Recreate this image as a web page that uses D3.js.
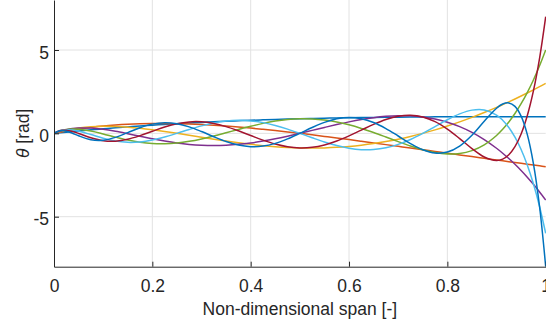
<!DOCTYPE html>
<html>
<head>
<meta charset="utf-8">
<script src="https://cdn.jsdelivr.net/npm/d3@7"></script>
<style>
  html, body { margin: 0; padding: 0; background: #ffffff; }
  svg { display: block; }
  text { font-family: "Liberation Sans", Arial, Helvetica, sans-serif; fill: #262626; }
</style>
</head>
<body>
<svg id="chart" width="546" height="323"></svg>
<script>
// Non-dimensional span positions
const span = [0, 0.0125, 0.025, 0.0375, 0.05, 0.075, 0.1, 0.125, 0.15, 0.175, 0.2, 0.225, 0.25, 0.275, 0.3, 0.325, 0.35, 0.375, 0.4, 0.425, 0.45, 0.475, 0.5, 0.525, 0.55, 0.575, 0.6, 0.625, 0.65, 0.675, 0.7, 0.725, 0.75, 0.775, 0.8, 0.825, 0.85, 0.875, 0.9, 0.9125, 0.925, 0.9375, 0.95, 0.9625, 0.975, 0.9875, 1];

// theta [rad] for each curve
const mode1 = [0, 0.037, 0.073, 0.108, 0.143, 0.209, 0.271, 0.330, 0.386, 0.439, 0.488, 0.535, 0.578, 0.619, 0.657, 0.693, 0.725, 0.756, 0.784, 0.810, 0.834, 0.855, 0.875, 0.893, 0.909, 0.923, 0.936, 0.947, 0.957, 0.966, 0.973, 0.979, 0.984, 0.989, 0.992, 0.995, 0.997, 0.998, 0.999, 0.999, 1.0, 1.0, 1.0, 1.0, 1.0, 1.0, 1.0];
const mode2 = [0, 0.072, 0.139, 0.200, 0.257, 0.354, 0.434, 0.495, 0.540, 0.570, 0.586, 0.588, 0.578, 0.557, 0.526, 0.485, 0.435, 0.378, 0.314, 0.243, 0.167, 0.086, 0, -0.089, -0.182, -0.277, -0.374, -0.474, -0.574, -0.676, -0.778, -0.881, -0.984, -1.087, -1.190, -1.293, -1.395, -1.497, -1.598, -1.649, -1.699, -1.75, -1.8, -1.85, -1.9, -1.95, -2];
const mode3 = [0, 0.104, 0.191, 0.262, 0.319, 0.394, 0.423, 0.413, 0.370, 0.303, 0.215, 0.112, 0, -0.118, -0.237, -0.353, -0.464, -0.567, -0.659, -0.737, -0.800, -0.847, -0.875, -0.884, -0.873, -0.840, -0.786, -0.710, -0.613, -0.493, -0.350, -0.186, 0, 0.208, 0.436, 0.686, 0.957, 1.248, 1.558, 1.721, 1.889, 2.062, 2.24, 2.423, 2.61, 2.803, 3];
const mode4 = [0, 0.130, 0.224, 0.285, 0.318, 0.315, 0.243, 0.124, -0.022, -0.177, -0.328, -0.464, -0.578, -0.663, -0.715, -0.732, -0.714, -0.661, -0.577, -0.464, -0.327, -0.170, 0, 0.178, 0.356, 0.529, 0.689, 0.829, 0.942, 1.021, 1.059, 1.049, 0.984, 0.859, 0.667, 0.401, 0.056, -0.374, -0.895, -1.191, -1.512, -1.859, -2.232, -2.632, -3.059, -3.515, -4];
const mode5 = [0, 0.150, 0.234, 0.265, 0.253, 0.142, -0.034, -0.227, -0.401, -0.532, -0.608, -0.623, -0.578, -0.479, -0.335, -0.159, 0.036, 0.236, 0.428, 0.598, 0.735, 0.830, 0.875, 0.866, 0.801, 0.681, 0.511, 0.296, 0.047, -0.222, -0.497, -0.758, -0.984, -1.153, -1.236, -1.207, -1.035, -0.686, -0.126, 0.244, 0.682, 1.191, 1.778, 2.446, 3.202, 4.052, 5];
const mode6 = [0, 0.162, 0.221, 0.205, 0.138, -0.074, -0.298, -0.464, -0.539, -0.515, -0.402, -0.221, 0, 0.232, 0.447, 0.621, 0.735, 0.780, 0.748, 0.643, 0.474, 0.253, 0, -0.264, -0.517, -0.733, -0.893, -0.977, -0.970, -0.865, -0.661, -0.367, 0, 0.409, 0.817, 1.169, 1.393, 1.404, 1.097, 0.788, 0.353, -0.226, -0.968, -1.894, -3.025, -4.386, -6];
const mode7 = [0, 0.167, 0.186, 0.114, -0.005, -0.267, -0.442, -0.469, -0.354, -0.138, 0.126, 0.380, 0.578, 0.688, 0.693, 0.594, 0.405, 0.154, -0.128, -0.405, -0.640, -0.804, -0.875, -0.840, -0.698, -0.461, -0.153, 0.192, 0.535, 0.828, 1.026, 1.088, 0.984, 0.703, 0.256, -0.312, -0.915, -1.419, -1.629, -1.545, -1.282, -0.797, -0.036, 1.057, 2.545, 4.501, 7];
const mode8 = [0, 0.162, 0.132, 0.007, -0.147, -0.381, -0.409, -0.240, 0.043, 0.336, 0.553, 0.639, 0.578, 0.387, 0.108, -0.205, -0.492, -0.703, -0.800, -0.765, -0.602, -0.334, 0, 0.348, 0.656, 0.872, 0.955, 0.881, 0.649, 0.286, -0.159, -0.612, -0.984, -1.182, -1.124, -0.763, -0.112, 0.725, 1.509, 1.761, 1.827, 1.620, 1.032, -0.062, -1.811, -4.390, -8];

const modes = [mode1, mode2, mode3, mode4, mode5, mode6, mode7, mode8];
const colors = ["#0072BD", "#D95319", "#EDB120", "#7E2F8E", "#77AC30", "#4DBEEE", "#A2142F", "#0072BD"];

const xTicks = [0, 0.2, 0.4, 0.6, 0.8, 1];
const xTickLabels = ["0", "0.2", "0.4", "0.6", "0.8", "1"];
const yTicks = [-5, 0, 5];
const yTickLabels = ["-5", "0", "5"];

const svg = d3.select("#chart");
const W = 546, H = 323;
svg.append("rect").attr("width", W).attr("height", H).attr("fill", "#ffffff");

const pLeft = 54, pRight = 545.7, pTop = 0, pBottom = 266.7;
const x = d3.scaleLinear().domain([0, 1]).range([pLeft, pRight]);
const y = d3.scaleLinear().domain([-8, 8]).range([pBottom, pTop]);

// grid
const grid = svg.append("g").attr("stroke", "#e2e2e2").attr("stroke-width", 1);
grid.selectAll("line.gx").data(xTicks.filter(d => d > 0 && d < 1)).enter().append("line")
  .attr("x1", d => x(d)).attr("x2", d => x(d)).attr("y1", pTop).attr("y2", pBottom);
grid.selectAll("line.gy").data(yTicks).enter().append("line")
  .attr("x1", pLeft).attr("x2", pRight).attr("y1", d => y(d)).attr("y2", d => y(d));

// curves
svg.append("clipPath").attr("id", "clip").append("rect")
  .attr("x", pLeft).attr("y", pTop - 2).attr("width", pRight - pLeft + 1).attr("height", pBottom - pTop + 2);

const line = d3.line()
  .x((d, i) => x(span[i]))
  .y(d => y(d))
  .curve(d3.curveCatmullRom.alpha(0.5));

const lines = svg.append("g").attr("clip-path", "url(#clip)");
modes.forEach((m, k) => {
  lines.append("path")
    .attr("d", line(m))
    .attr("fill", "none")
    .attr("stroke", colors[k])
    .attr("stroke-width", 1.5)
    .attr("stroke-linejoin", "round");
});

// axes
const xAxis = d3.axisBottom(x).tickValues(xTicks).tickFormat((d, i) => xTickLabels[i]).tickSize(-5).tickSizeOuter(0);
const gx = svg.append("g").attr("transform", `translate(0,${pBottom})`).call(xAxis);
gx.select(".domain").attr("stroke", "#262626").attr("stroke-width", 1);
gx.selectAll(".tick line").attr("stroke", "#262626");
gx.selectAll(".tick text").attr("y", 25).attr("dy", 0)
  .style("font-size", "17.5px").style("font-family", '"Liberation Sans", Arial, sans-serif').attr("fill", "#262626");

const yAxis = d3.axisLeft(y).tickValues(yTicks).tickFormat((d, i) => yTickLabels[i]).tickSize(-5).tickSizeOuter(0);
const gy = svg.append("g").attr("transform", `translate(${pLeft},0)`).call(yAxis);
gy.select(".domain").attr("stroke", "#262626").attr("stroke-width", 1);
gy.selectAll(".tick line").attr("stroke", "#262626");
gy.selectAll(".tick text").attr("x", -5).attr("dy", "0.46em")
  .style("font-size", "17.5px").style("font-family", '"Liberation Sans", Arial, sans-serif').attr("fill", "#262626");

// labels
svg.append("text")
  .attr("x", (pLeft + pRight) / 2).attr("y", 315)
  .attr("text-anchor", "middle")
  .style("font-size", "17.5px")
  .text("Non-dimensional span [-]");

const yl = svg.append("text")
  .attr("transform", `translate(29,${(pTop + pBottom) / 2}) rotate(-90)`)
  .attr("text-anchor", "middle")
  .style("font-size", "17.5px");
yl.append("tspan").style("font-style", "italic").text("θ");
yl.append("tspan").text(" [rad]");
</script>
</body>
</html>
